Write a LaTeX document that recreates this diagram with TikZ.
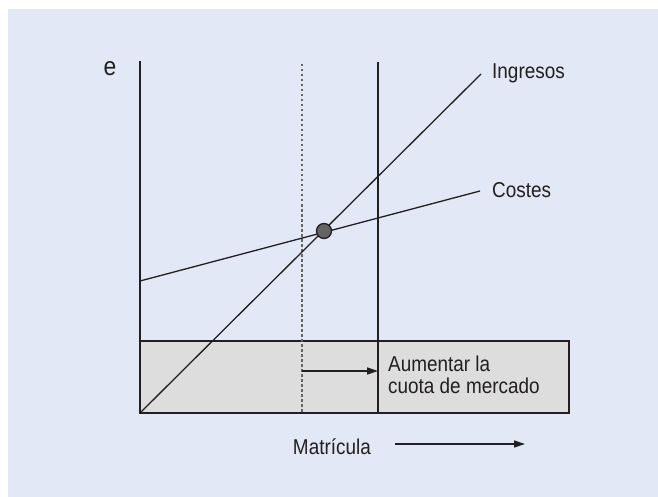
\documentclass[tikz,border=0pt]{standalone}
\usepackage{fontspec}
\setmainfont{Liberation Sans}[FakeStretch=0.88]
\usetikzlibrary{arrows.meta}
\definecolor{bgblue}{RGB}{226,232,245}
\definecolor{boxgray}{RGB}{221,221,221}
\definecolor{ink}{RGB}{35,31,32}
\definecolor{dotgray}{RGB}{100,100,100}
\tikzset{
  ln/.style={draw=ink, line width=1.3pt},
  arr/.style={ln, -{Triangle[length=11pt,width=7pt]}},
  lbl/.style={inner sep=0pt, text=ink, font=\fontsize{21.5}{21.7}\selectfont},
}
\begin{document}
\begin{tikzpicture}[x=1pt,y=-1pt]
\useasboundingbox (0,0) rectangle (658,497);
\fill[bgblue] (8,9) rectangle (658,497);
% coordinates
\coordinate (O) at (140,413);
\coordinate (ytop) at (140,61);
\coordinate (boxTL) at (140,341);
\coordinate (boxBR) at (569,413);
\coordinate (dTop) at (302,64);
\coordinate (dBot) at (302,413);
\coordinate (sTop) at (378,62);
\coordinate (sBot) at (378,413);
\coordinate (iEnd) at (481,74);
\coordinate (cStart) at (140,281);
\coordinate (cEnd) at (480,191);
\coordinate (a1s) at (302,371);
\coordinate (a1e) at (378,371);
\coordinate (a2s) at (395,444);
\coordinate (a2e) at (525,444);
% box
\filldraw[boxgray, draw=ink, line width=1.3pt] (boxTL) rectangle (boxBR);
% axes
\draw[ln] (ytop) -- (O);
% verticals
\draw[ln, draw=dotgray, dash pattern=on 2.5pt off 2.5pt] (dTop) -- (dBot);
\draw[ln] (sTop) -- (sBot);
% curves
\draw[ln] (O) -- (iEnd);
\draw[ln] (cStart) -- (cEnd);
% intersection
\node[circle, fill=dotgray, draw=ink, line width=1.3pt, minimum size=15pt, inner sep=0pt] (pt) at (324,231) {};
% arrows
\draw[arr] (a1s) -- (a1e);
\draw[arr] (a2s) -- (a2e);
% labels
\node[lbl, font=\fontsize{26}{26}\selectfont] (e) at (110,69) {e};
\node[lbl, anchor=west] (ing) at (492,73) {Ingresos};
\node[lbl, anchor=west] (cos) at (492,190) {Costes};
\node[lbl, anchor=east] (mat) at (371,447) {Matrícula};
\node[lbl, anchor=north west, align=left] (aum) at (388,356) {Aumentar la\\cuota de mercado};
\end{tikzpicture}
\end{document}
